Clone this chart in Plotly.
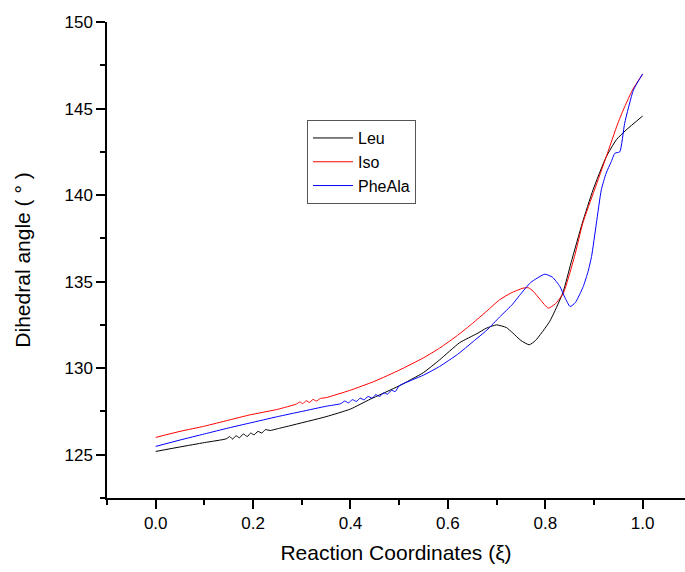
import plotly.graph_objects as go

# Leu
leu_x = [0.0, 0.05, 0.10, 0.145, 0.152, 0.158, 0.165, 0.172, 0.180, 0.188, 0.195, 0.202,
         0.210, 0.218, 0.225, 0.235, 0.250, 0.275, 0.35, 0.40, 0.44, 0.50, 0.55, 0.583,
         0.624, 0.66, 0.679, 0.70, 0.72, 0.733, 0.75, 0.767, 0.78, 0.809, 0.836, 0.853,
         0.876, 0.898, 0.925, 0.946, 0.966, 1.0]
leu_y = [125.19, 125.45, 125.70, 125.92, 126.05, 125.90, 126.10, 125.98, 126.20, 126.05,
         126.25, 126.15, 126.35, 126.25, 126.45, 126.40, 126.50, 126.67, 127.20, 127.64,
         128.20, 128.98, 129.75, 130.48, 131.47, 132.00, 132.31, 132.50, 132.35, 132.04,
         131.60, 131.35, 131.60, 132.70, 134.35, 136.10, 138.38, 140.30, 142.20, 143.20,
         143.76, 144.57]

# Iso
iso_x = [0.0, 0.05, 0.10, 0.15, 0.193, 0.25, 0.289, 0.296, 0.302, 0.309, 0.316, 0.323,
         0.330, 0.338, 0.35, 0.398, 0.45, 0.501, 0.55, 0.583, 0.62, 0.651, 0.68, 0.706,
         0.73, 0.754, 0.765, 0.775, 0.79, 0.806, 0.82, 0.837, 0.86, 0.877, 0.901, 0.925,
         0.949, 0.963, 0.979, 1.0]
iso_y = [126.00, 126.35, 126.65, 127.00, 127.30, 127.62, 127.93, 128.05, 127.95, 128.12,
         128.02, 128.20, 128.10, 128.25, 128.30, 128.71, 129.25, 129.90, 130.60, 131.16,
         131.90, 132.60, 133.30, 133.95, 134.35, 134.62, 134.65, 134.45, 133.95, 133.47,
         133.70, 134.33, 136.45, 138.38, 140.30, 142.20, 144.15, 145.10, 146.07, 147.00]

# PheAla
phe_x = [0.0, 0.05, 0.10, 0.15, 0.193, 0.25, 0.30, 0.35, 0.38, 0.388, 0.396, 0.404,
         0.412, 0.420, 0.428, 0.436, 0.444, 0.452, 0.460, 0.468, 0.476, 0.484, 0.492,
         0.50, 0.55, 0.583, 0.62, 0.652, 0.68, 0.706, 0.733, 0.747, 0.77, 0.799, 0.815,
         0.83, 0.84, 0.851, 0.862, 0.878, 0.888, 0.895, 0.905, 0.915, 0.925, 0.935,
         0.943, 0.953, 0.963, 0.981, 1.0]
phe_y = [125.48, 125.85, 126.20, 126.55, 126.83, 127.20, 127.50, 127.80, 127.95, 128.10,
         128.00, 128.18, 128.08, 128.27, 128.17, 128.37, 128.27, 128.47, 128.37, 128.57,
         128.50, 128.72, 128.65, 128.98, 129.60, 130.10, 130.80, 131.54, 132.20, 132.95,
         133.70, 134.20, 134.95, 135.43, 135.25, 134.72, 134.10, 133.56, 133.80, 134.72,
         135.60, 136.45, 138.38, 140.30, 141.27, 141.90, 142.42, 142.50, 144.15, 146.07,
         147.00]

series = [
    ("Leu", leu_x, leu_y, "#000000"),
    ("Iso", iso_x, iso_y, "#ff0000"),
    ("PheAla", phe_x, phe_y, "#0000ff"),
]

FONT = "Liberation Sans, Arial, sans-serif"

fig = go.Figure()
for name, xs, ys, color in series:
    fig.add_trace(go.Scatter(x=xs, y=ys, mode="lines", name=name,
                             line=dict(color=color, width=1, shape="spline",
                                       smoothing=0.5)))

fig.update_layout(
    width=685, height=572,
    margin=dict(l=107, r=0, t=22, b=74),
    paper_bgcolor="white", plot_bgcolor="white",
    font=dict(family=FONT, size=17, color="#000000"),
    showlegend=True,
    legend=dict(x=0.346, y=0.794, xanchor="left", yanchor="top",
                bordercolor="#555555", borderwidth=1, bgcolor="white",
                font=dict(family=FONT, size=16, color="#000000"),
                tracegroupgap=0, itemwidth=40),
)

fig.update_xaxes(
    range=[-0.1, 1.0869], tickmode="array",
    tickvals=[0.0, 0.2, 0.4, 0.6, 0.8, 1.0],
    ticktext=["0.0", "0.2", "0.4", "0.6", "0.8", "1.0"],
    ticks="outside", ticklen=9, tickwidth=1.5, tickcolor="#000000",
    minor=dict(tickvals=[-0.1, 0.1, 0.3, 0.5, 0.7, 0.9], ticks="outside",
               ticklen=5, tickwidth=1.5, tickcolor="#000000"),
    showline=True, linecolor="#000000", linewidth=1.5,
    showgrid=False, zeroline=False,
    tickfont=dict(family=FONT, size=17),
    title=dict(text="Reaction Coordinates (ξ)", font=dict(family=FONT, size=21),
               standoff=13),
)

fig.update_yaxes(
    range=[122.5, 150], tickmode="array",
    tickvals=[125, 130, 135, 140, 145, 150],
    ticks="outside", ticklen=9, tickwidth=1.5, tickcolor="#000000",
    minor=dict(tickvals=[122.5, 127.5, 132.5, 137.5, 142.5, 147.5], ticks="outside",
               ticklen=5, tickwidth=1.5, tickcolor="#000000"),
    showline=True, linecolor="#000000", linewidth=1.5,
    showgrid=False, zeroline=False,
    tickfont=dict(family=FONT, size=17),
    title=dict(text="Dihedral angle ( ° )", font=dict(family=FONT, size=21),
               standoff=28),
)

fig.write_html("out.html")
